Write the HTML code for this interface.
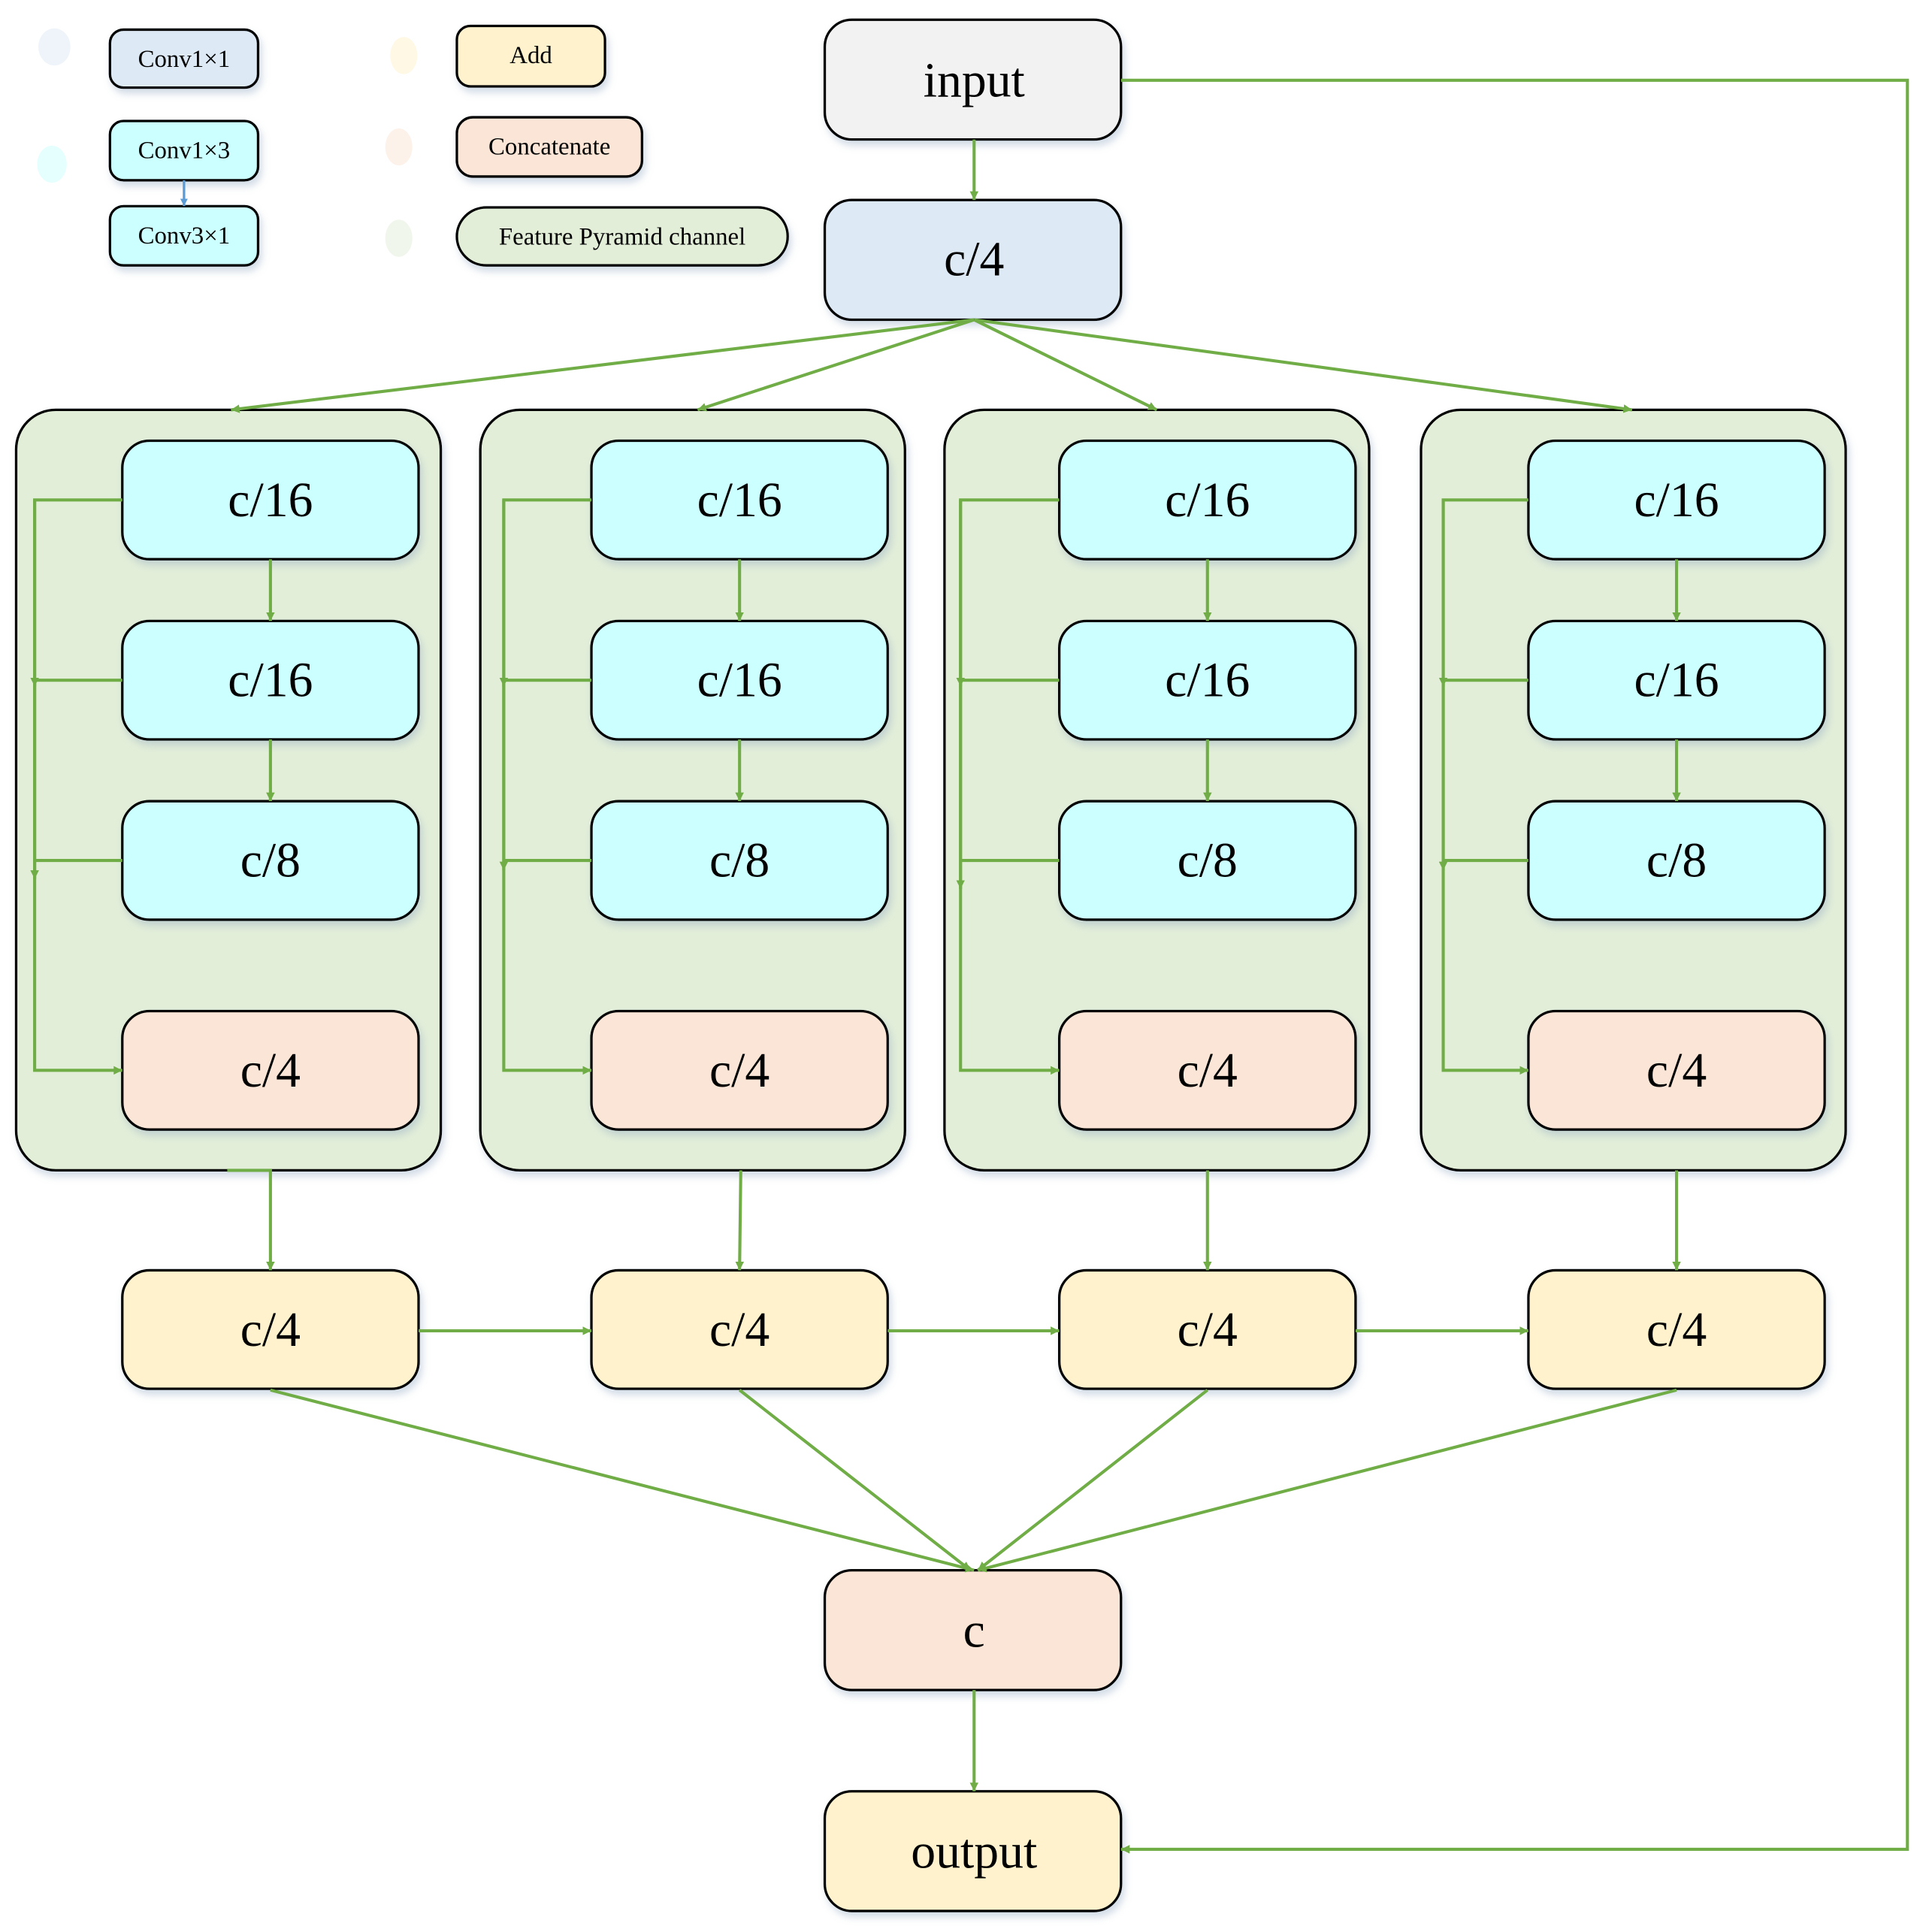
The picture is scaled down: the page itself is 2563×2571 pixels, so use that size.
<!DOCTYPE html>
<html><head><meta charset="utf-8">
<style>
html,body{margin:0;padding:0;background:#fff;}
svg{display:block;}
text{font-family:"Liberation Serif",serif;fill:#000;text-anchor:middle;dominant-baseline:central;}
</style></head>
<body>
<svg width="2563" height="2571" viewBox="0 0 1560 1565" xmlns="http://www.w3.org/2000/svg">
<defs>
<marker id="a" viewBox="0 0 10 10" refX="10" refY="5" markerWidth="7" markerHeight="7" markerUnits="userSpaceOnUse" orient="auto"><path d="M0,0L10,5L0,10z" fill="#70ad47"/></marker>
<marker id="ab" viewBox="0 0 10 10" refX="10" refY="5" markerWidth="6" markerHeight="6" markerUnits="userSpaceOnUse" orient="auto"><path d="M0,0L10,5L0,10z" fill="#5b9bd5"/></marker>
<filter id="sh" x="-10%" y="-10%" width="120%" height="130%"><feDropShadow dx="2" dy="4" stdDeviation="3" flood-color="#9bb0c8" flood-opacity="0.45"/></filter>
</defs>
<style>
.g{stroke:#70ad47;stroke-width:2.5;fill:none;}
.b{stroke:#000;stroke-width:2;}
</style>

<!-- legend -->
<g opacity="0.5">
<ellipse cx="44" cy="38" rx="13" ry="15" fill="#dde9f5"/>
<ellipse cx="42" cy="133" rx="12" ry="15" fill="#ccffff"/>
<ellipse cx="327" cy="45" rx="11" ry="15" fill="#fff2cc"/>
<ellipse cx="323" cy="119" rx="11" ry="15" fill="#fbe5d6"/>
<ellipse cx="323" cy="193" rx="11" ry="15" fill="#e2eed8"/>
</g>
<g filter="url(#sh)">
<rect class="b" x="89" y="24" width="120" height="47" rx="11" fill="#dde9f5"/>
<rect class="b" x="89" y="98" width="120" height="48" rx="11" fill="#ccffff"/>
<rect class="b" x="89" y="167" width="120" height="48" rx="11" fill="#ccffff"/>
<rect class="b" x="370" y="21" width="120" height="49" rx="11" fill="#fff2cc"/>
<rect class="b" x="370" y="95" width="150" height="48" rx="13" fill="#fbe5d6"/>
<rect class="b" x="370" y="168" width="268" height="47" rx="24" fill="#e2eed8"/>
</g>
<line x1="149" y1="146" x2="149" y2="167" stroke="#5b9bd5" stroke-width="2" marker-end="url(#ab)"/>
<text x="149" y="48" font-size="20">Conv1×1</text>
<text x="149" y="122" font-size="20">Conv1×3</text>
<text x="149" y="191" font-size="20">Conv3×1</text>
<text x="430" y="45" font-size="20">Add</text>
<text x="445" y="119" font-size="20">Concatenate</text>
<text x="504" y="192" font-size="20">Feature Pyramid channel</text>

<!-- groups -->
<g filter="url(#sh)">
<rect class="b" x="13" y="332" width="344" height="616" rx="32" fill="#e2eed8"/>
<rect class="b" x="389" y="332" width="344" height="616" rx="32" fill="#e2eed8"/>
<rect class="b" x="765" y="332" width="344" height="616" rx="32" fill="#e2eed8"/>
<rect class="b" x="1151" y="332" width="344" height="616" rx="32" fill="#e2eed8"/>
</g>

<!-- top/bottom main nodes -->
<g filter="url(#sh)">
<rect class="b" x="668" y="16" width="240" height="97" rx="22" fill="#f2f2f2"/>
<rect class="b" x="668" y="162" width="240" height="97" rx="22" fill="#dde9f5"/>
<rect class="b" x="668" y="1272" width="240" height="97" rx="22" fill="#fbe5d6"/>
<rect class="b" x="668" y="1451" width="240" height="97" rx="22" fill="#fff2cc"/>
</g>
<text x="789" y="65" font-size="40">input</text>
<text x="789" y="210" font-size="40">c/4</text>
<text x="789" y="1321" font-size="40">c</text>
<text x="789" y="1500" font-size="40">output</text>

<!-- inner nodes -->
<g filter="url(#sh)">
<!-- g1 -->
<rect class="b" x="99" y="357" width="240" height="96" rx="22" fill="#ccffff"/>
<rect class="b" x="99" y="503" width="240" height="96" rx="22" fill="#ccffff"/>
<rect class="b" x="99" y="649" width="240" height="96" rx="22" fill="#ccffff"/>
<rect class="b" x="99" y="819" width="240" height="96" rx="22" fill="#fbe5d6"/>
<rect class="b" x="99" y="1029" width="240" height="96" rx="22" fill="#fff2cc"/>
<!-- g2 -->
<rect class="b" x="479" y="357" width="240" height="96" rx="22" fill="#ccffff"/>
<rect class="b" x="479" y="503" width="240" height="96" rx="22" fill="#ccffff"/>
<rect class="b" x="479" y="649" width="240" height="96" rx="22" fill="#ccffff"/>
<rect class="b" x="479" y="819" width="240" height="96" rx="22" fill="#fbe5d6"/>
<rect class="b" x="479" y="1029" width="240" height="96" rx="22" fill="#fff2cc"/>
<!-- g3 -->
<rect class="b" x="858" y="357" width="240" height="96" rx="22" fill="#ccffff"/>
<rect class="b" x="858" y="503" width="240" height="96" rx="22" fill="#ccffff"/>
<rect class="b" x="858" y="649" width="240" height="96" rx="22" fill="#ccffff"/>
<rect class="b" x="858" y="819" width="240" height="96" rx="22" fill="#fbe5d6"/>
<rect class="b" x="858" y="1029" width="240" height="96" rx="22" fill="#fff2cc"/>
<!-- g4 -->
<rect class="b" x="1238" y="357" width="240" height="96" rx="22" fill="#ccffff"/>
<rect class="b" x="1238" y="503" width="240" height="96" rx="22" fill="#ccffff"/>
<rect class="b" x="1238" y="649" width="240" height="96" rx="22" fill="#ccffff"/>
<rect class="b" x="1238" y="819" width="240" height="96" rx="22" fill="#fbe5d6"/>
<rect class="b" x="1238" y="1029" width="240" height="96" rx="22" fill="#fff2cc"/>
</g>
<g font-size="40">
<text x="219" y="405">c/16</text><text x="219" y="551">c/16</text><text x="219" y="697">c/8</text><text x="219" y="867">c/4</text><text x="219" y="1077">c/4</text>
<text x="599" y="405">c/16</text><text x="599" y="551">c/16</text><text x="599" y="697">c/8</text><text x="599" y="867">c/4</text><text x="599" y="1077">c/4</text>
<text x="978" y="405">c/16</text><text x="978" y="551">c/16</text><text x="978" y="697">c/8</text><text x="978" y="867">c/4</text><text x="978" y="1077">c/4</text>
<text x="1358" y="405">c/16</text><text x="1358" y="551">c/16</text><text x="1358" y="697">c/8</text><text x="1358" y="867">c/4</text><text x="1358" y="1077">c/4</text>
</g>

<!-- connectors -->
<g class="g">
<line x1="789" y1="113" x2="789" y2="162" marker-end="url(#a)"/>
<line x1="789" y1="259" x2="187" y2="332" marker-end="url(#a)"/>
<line x1="789" y1="259" x2="565" y2="332" marker-end="url(#a)"/>
<line x1="789" y1="259" x2="937" y2="332" marker-end="url(#a)"/>
<line x1="789" y1="259" x2="1322" y2="332" marker-end="url(#a)"/>
<polyline points="908,65 1545,65 1545,1498 908,1498" marker-end="url(#a)"/>
<line x1="789" y1="1369" x2="789" y2="1451" marker-end="url(#a)"/>

<!-- per group -->
<!-- g1 bus x=28 -->
<line x1="219" y1="453" x2="219" y2="503" marker-end="url(#a)"/>
<line x1="219" y1="599" x2="219" y2="649" marker-end="url(#a)"/>
<polyline points="99,405 28,405 28,867 99,867" marker-end="url(#a)"/>
<line x1="28" y1="405" x2="28" y2="556" marker-end="url(#a)"/>
<line x1="28" y1="551" x2="28" y2="712" marker-end="url(#a)"/>
<line x1="99" y1="551" x2="28" y2="551"/>
<line x1="99" y1="697" x2="28" y2="697"/>
<polyline points="184,948 219,948 219,1029" marker-end="url(#a)"/>
<!-- g2 bus x=408 -->
<line x1="599" y1="453" x2="599" y2="503" marker-end="url(#a)"/>
<line x1="599" y1="599" x2="599" y2="649" marker-end="url(#a)"/>
<polyline points="479,405 408,405 408,867 479,867" marker-end="url(#a)"/>
<line x1="408" y1="405" x2="408" y2="556" marker-end="url(#a)"/>
<line x1="408" y1="551" x2="408" y2="705" marker-end="url(#a)"/>
<line x1="479" y1="551" x2="408" y2="551"/>
<line x1="479" y1="697" x2="408" y2="697"/>
<line x1="600" y1="948" x2="599" y2="1029" marker-end="url(#a)"/>
<!-- g3 bus x=778 -->
<line x1="978" y1="453" x2="978" y2="503" marker-end="url(#a)"/>
<line x1="978" y1="599" x2="978" y2="649" marker-end="url(#a)"/>
<polyline points="858,405 778,405 778,867 858,867" marker-end="url(#a)"/>
<line x1="778" y1="405" x2="778" y2="556" marker-end="url(#a)"/>
<line x1="778" y1="551" x2="778" y2="720" marker-end="url(#a)"/>
<line x1="858" y1="551" x2="778" y2="551"/>
<line x1="858" y1="697" x2="778" y2="697"/>
<line x1="978" y1="948" x2="978" y2="1029" marker-end="url(#a)"/>
<!-- g4 bus x=1169 -->
<line x1="1358" y1="453" x2="1358" y2="503" marker-end="url(#a)"/>
<line x1="1358" y1="599" x2="1358" y2="649" marker-end="url(#a)"/>
<polyline points="1238,405 1169,405 1169,867 1238,867" marker-end="url(#a)"/>
<line x1="1169" y1="405" x2="1169" y2="556" marker-end="url(#a)"/>
<line x1="1169" y1="551" x2="1169" y2="705" marker-end="url(#a)"/>
<line x1="1238" y1="551" x2="1169" y2="551"/>
<line x1="1238" y1="697" x2="1169" y2="697"/>
<line x1="1358" y1="948" x2="1358" y2="1029" marker-end="url(#a)"/>

<!-- yellow row -->
<line x1="339" y1="1078" x2="479" y2="1078" marker-end="url(#a)"/>
<line x1="719" y1="1078" x2="858" y2="1078" marker-end="url(#a)"/>
<line x1="1098" y1="1078" x2="1238" y2="1078" marker-end="url(#a)"/>
<line x1="219" y1="1126" x2="789" y2="1272" marker-end="url(#a)"/>
<line x1="599" y1="1126" x2="786" y2="1272" marker-end="url(#a)"/>
<line x1="978" y1="1126" x2="792" y2="1272" marker-end="url(#a)"/>
<line x1="1358" y1="1126" x2="792" y2="1272" marker-end="url(#a)"/>
</g>
</svg>
</body></html>
